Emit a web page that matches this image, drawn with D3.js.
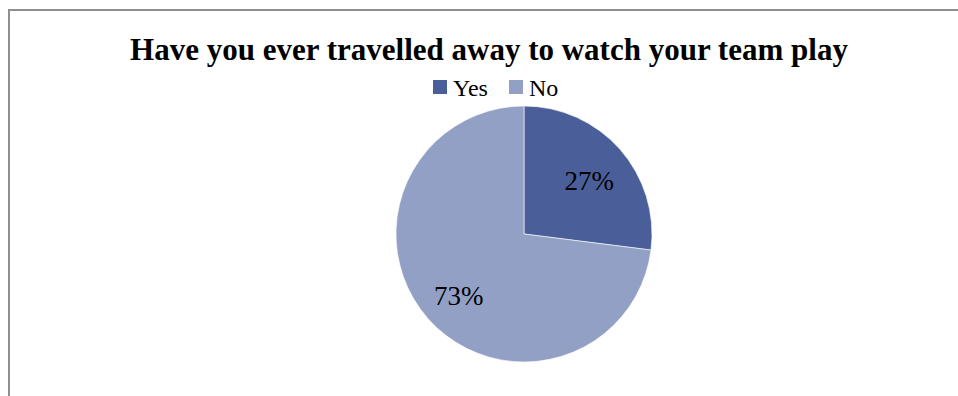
<!DOCTYPE html>
<html>
<head>
<meta charset="utf-8">
<script src="https://cdn.jsdelivr.net/npm/d3@7"></script>
<style>
  html, body { margin: 0; padding: 0; background: #fff; }
  svg { display: block; }
</style>
</head>
<body>
<script>
// Survey answers and their shares (percent)
const categories = ["Yes", "No"];
const shares = [27, 73];
const sliceColors = ["#4A5F9A", "#93A0C6"];
const chartTitle = "Have you ever travelled away to watch your team play";

const W = 958, H = 396;
const svg = d3.select("body").append("svg")
  .attr("width", W).attr("height", H);

// Chart frame (open on the right and bottom)
svg.append("path")
  .attr("d", `M9,${H + 2}V10H${W + 2}`)
  .attr("fill", "none")
  .attr("stroke", "#8f8f8f")
  .attr("stroke-width", 2);

const serif = "'Liberation Serif', 'Times New Roman', serif";

// Title
svg.append("text")
  .attr("x", 489).attr("y", 60)
  .attr("text-anchor", "middle")
  .attr("font-family", serif)
  .attr("font-weight", "bold")
  .attr("font-size", 31)
  .attr("fill", "#000")
  .text(chartTitle);

// Legend
const legendX = [433, 509];
const legend = svg.append("g");
categories.forEach((c, i) => {
  const g = legend.append("g").attr("transform", `translate(${legendX[i]},80)`);
  g.append("rect").attr("width", 14).attr("height", 14).attr("fill", sliceColors[i]);
  g.append("text")
    .attr("x", 20).attr("y", 16)
    .attr("font-family", serif)
    .attr("font-size", 24)
    .attr("fill", "#000")
    .text(c);
});

// Pie
const cx = 524, cy = 234, radius = 128;
const color = d3.scaleOrdinal().domain(categories).range(sliceColors);
const pie = d3.pie().sort(null).value(d => d.value);
const data = categories.map((c, i) => ({ name: c, value: shares[i] }));
const arcs = pie(data);
const arc = d3.arc().innerRadius(0).outerRadius(radius);
const labelArc = d3.arc().innerRadius(radius * 0.68).outerRadius(radius * 0.68);

const pg = svg.append("g").attr("transform", `translate(${cx},${cy})`);
pg.selectAll("path.slice")
  .data(arcs)
  .join("path")
  .attr("class", "slice")
  .attr("d", arc)
  .attr("fill", d => color(d.data.name))
  .attr("stroke", "#ffffff")
  .attr("stroke-width", 0.6);

pg.selectAll("text.pct")
  .data(arcs)
  .join("text")
  .attr("class", "pct")
  .attr("transform", d => `translate(${labelArc.centroid(d)})`)
  .attr("text-anchor", "middle")
  .attr("dy", "0.5em")
  .attr("font-family", serif)
  .attr("font-size", 27)
  .attr("fill", "#000")
  .text(d => d.data.value + "%");
</script>
</body>
</html>
